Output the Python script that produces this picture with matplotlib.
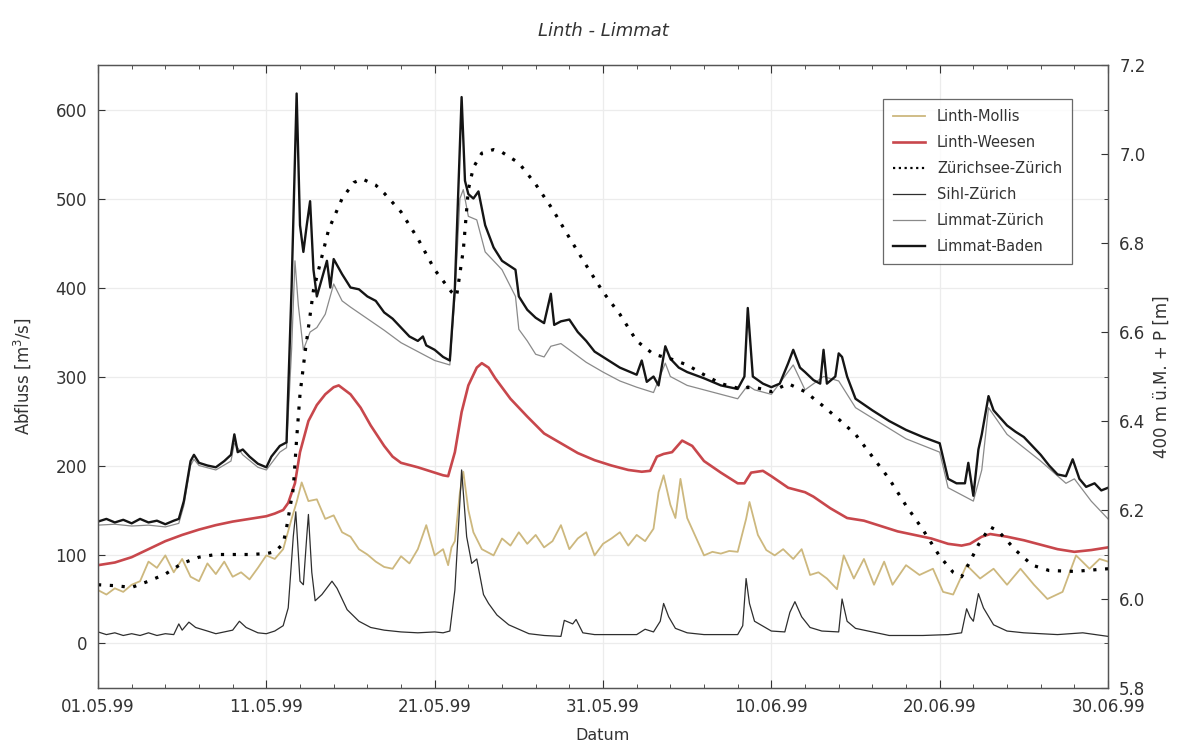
import matplotlib
matplotlib.use("Agg")
import matplotlib.pyplot as plt
import numpy as np
from matplotlib.ticker import MultipleLocator

# Abfluss-Ganglinien Mai/Juni 1999 (Tage ab 01.05.99)
tick_days = [0, 10, 20, 30, 40, 50, 60]
tick_labels = ["01.05.99", "11.05.99", "21.05.99", "31.05.99", "10.06.99", "20.06.99", "30.06.99"]

# Linth-Mollis [m3/s]
mollis_t = [0.0, 0.5, 1.0, 1.5, 2.0, 2.5, 3.0, 3.5, 4.0, 4.5, 5.0, 5.5, 6.0, 6.5, 7.0, 7.5, 8.0, 8.5,
            9.0, 9.5, 10.0, 10.5, 11.0, 11.5, 11.8, 12.1, 12.5, 13.0, 13.5, 14.0, 14.5, 15.0, 15.5,
            16.0, 16.5, 17.0, 17.5, 18.0, 18.5, 19.0, 19.5, 20.0, 20.5, 20.8, 21.0, 21.2, 21.5, 21.7,
            22.0, 22.3, 22.8, 23.5, 24.0, 24.5, 25.0, 25.5, 26.0, 26.5, 27.0, 27.5, 28.0, 28.5, 29.0,
            29.5, 30.0, 30.5, 31.0, 31.5, 32.0, 32.5, 33.0, 33.3, 33.6, 34.0, 34.3, 34.6, 35.0, 35.5,
            36.0, 36.5, 37.0, 37.5, 38.0, 38.5, 38.7, 39.2, 39.7, 40.2, 40.7, 41.3, 41.8, 42.3, 42.8,
            43.3, 43.9, 44.3, 44.9, 45.5, 46.1, 46.7, 47.2, 48.0, 48.8, 49.6, 50.2, 50.8, 51.6, 52.4,
            53.2, 54.0, 54.8, 55.6, 56.4, 57.3, 58.1, 58.9, 59.5, 60.0]
mollis_q = [60, 55, 62, 58, 66, 70, 92, 85, 99, 80, 95, 75, 70, 90, 78, 92, 75, 80,
            72, 85, 99, 95, 106, 140, 159, 181, 160, 162, 140, 144, 125, 120, 106,
            100, 92, 86, 84, 98, 90, 106, 133, 99, 106, 88, 108, 115, 170, 193,
            150, 125, 106, 99, 118, 110, 125, 112, 122, 108, 115, 133, 106, 118, 125,
            99, 112, 118, 125, 110, 122, 115, 129, 170, 189, 156, 141, 185, 141, 120,
            99, 103, 101, 104, 103, 140, 159, 122, 105, 99, 106, 95, 106, 77, 80,
            73, 61, 99, 73, 95, 66, 92, 66, 88, 77, 84, 58, 55, 88, 73,
            84, 66, 84, 66, 50, 58, 99, 84, 95, 92]

# Linth-Weesen [m3/s]
weesen_t = [0, 1, 2, 3, 4, 5, 6, 7, 8, 9, 10, 10.5, 11, 11.3, 11.7, 12.0, 12.5, 13.0, 13.5, 14.0,
            14.3, 15, 15.6, 16.2, 17.0, 17.5, 18.0, 19, 20, 20.5, 20.8, 21.2, 21.6, 22.0, 22.5, 22.8,
            23.2, 23.6, 24.5, 25.5, 26.5, 27.5, 28.5, 29.5, 30.5, 31.5, 32.3, 32.8, 33.2, 33.6, 34.1,
            34.7, 35.3, 36.0, 37.0, 38.0, 38.4, 38.8, 39.5, 40, 41, 42, 42.5, 43.5, 44.5, 45.5, 46.5,
            47.5, 48.5, 49.5, 50.5, 51.3, 51.8, 52.5, 53.0, 54, 55, 56, 57, 58, 59, 60]
weesen_q = [88, 91, 97, 106, 115, 122, 128, 133, 137, 140, 143, 146, 150, 158, 180, 215, 250, 268, 280, 288,
            290, 280, 265, 245, 222, 210, 203, 198, 192, 189, 188, 215, 260, 290, 310, 315,
            310, 298, 275, 255, 236, 225, 214, 206, 200, 195, 193, 194, 210, 213, 215,
            228, 222, 205, 192, 180, 180, 192, 194, 188, 175, 170, 165, 152, 141, 138, 132,
            126, 122, 118, 112, 110, 112, 120, 123, 120, 116, 111, 106, 103, 105, 108]

# Zürichsee-Zürich, Pegel [m über 400 m ü.M.]
see_t = [0, 1, 2, 3, 4, 5, 6, 7, 8, 9, 10, 10.5, 11, 11.2, 11.6, 11.8, 12.0, 12.3, 12.8, 13.7, 14.5,
         15.2, 15.7, 16.5, 17.0, 18.0, 19.0, 20.0, 21.0, 21.3, 21.7, 22.0, 22.3, 22.8, 23.5, 24.0,
         25.0, 26.0, 27.0, 28.0, 29.0, 30.0, 31.0, 32.0, 33.0, 34.0, 35.0, 36.0, 37.0, 38.0, 39.0,
         40.0, 41.0, 42.0, 43.0, 44.0, 45.0, 46.0, 47.0, 48.0, 49.0, 50.0, 50.8, 51.3, 51.8, 52.3,
         53.0, 53.5, 54.5, 55.5, 56.5, 58, 60]
see_h = [6.032, 6.030, 6.026, 6.040, 6.056, 6.080, 6.094, 6.100, 6.100, 6.100, 6.102, 6.106, 6.124,
         6.160, 6.248, 6.360, 6.460, 6.554, 6.694, 6.830, 6.900, 6.936, 6.944, 6.930, 6.912, 6.870,
         6.810, 6.740, 6.690, 6.680, 6.784, 6.920, 6.970, 7.002, 7.010, 7.004, 6.980, 6.932, 6.876,
         6.812, 6.750, 6.690, 6.640, 6.580, 6.550, 6.540, 6.526, 6.504, 6.484, 6.474, 6.476, 6.466,
         6.484, 6.466, 6.436, 6.404, 6.370, 6.320, 6.270, 6.210, 6.156, 6.096, 6.060, 6.050, 6.084,
         6.122, 6.162, 6.152, 6.110, 6.076, 6.064, 6.062, 6.068]

# Sihl-Zürich [m3/s]
sihl_t = [0, 0.5, 1, 1.5, 2, 2.5, 3, 3.5, 4, 4.5, 4.8, 5.0, 5.4, 5.8, 6.5, 7.0, 7.5, 8.0, 8.4, 8.8,
          9.5, 10.0, 10.5, 11.0, 11.3, 11.6, 11.75, 12.0, 12.2, 12.4, 12.5, 12.7, 12.9, 13.3, 13.9,
          14.2, 14.8, 15.5, 16.2, 17, 18, 19, 20, 20.5, 20.9, 21.2, 21.5, 21.6, 21.9, 22.2, 22.5,
          22.9, 23.2, 23.7, 24.4, 25.6, 26.5, 27.5, 27.7, 28.2, 28.4, 28.8, 29.5, 30, 32, 32.5, 33.0,
          33.4, 33.6, 33.9, 34.3, 35, 36, 38.0, 38.3, 38.5, 38.7, 39.0, 40, 40.8, 41.1, 41.4, 41.8,
          42.3, 43, 44.0, 44.2, 44.5, 45, 47, 49, 50.5, 51.3, 51.6, 51.8, 52.0, 52.3, 52.6, 53.2,
          54, 55, 57, 58.5, 60]
sihl_q = [13, 10, 12, 9, 11, 9, 12, 9, 11, 10, 22, 15, 24, 18, 14, 11, 13, 15, 25, 18,
          12, 11, 14, 20, 40, 120, 148, 70, 66, 120, 145, 80, 48, 55, 70,
          62, 38, 25, 18, 15, 13, 12, 13, 12, 14, 60, 160, 195, 120, 90, 95,
          55, 45, 32, 21, 11, 9, 8, 26, 22, 27, 12, 10, 10, 10, 16, 13,
          25, 45, 30, 17, 12, 10, 10, 20, 73, 45, 25, 14, 13, 35, 47, 30,
          18, 14, 13, 50, 25, 17, 9, 9, 10, 12, 39, 30, 25, 56, 40, 21,
          14, 12, 10, 12, 8]

# Limmat-Zürich [m3/s]
lzh_t = [0, 1, 2, 3, 4, 4.8, 5.1, 5.5, 5.7, 6.0, 7.0, 7.9, 8.1, 8.6, 9.5, 10.0, 10.8, 11.2, 11.5,
         11.7, 11.9, 12.2, 12.6, 13.0, 13.5, 14.0, 14.5, 15.0, 16.0, 17.0, 18.0, 19.0, 20.0, 20.9,
         21.2, 21.5, 21.7, 22.0, 22.5, 23.0, 24.0, 24.8, 25.0, 25.5, 26.0, 26.5, 26.9, 27.5, 28.0,
         29.0, 30.0, 31.0, 32.0, 33.0, 33.7, 34.0, 35.0, 37.0, 38.0, 38.6, 39.0, 40.0, 41.3, 42.0,
         43.1, 44.0, 45.0, 48.0, 50.0, 50.5, 51.0, 52.0, 52.5, 52.9, 54.0, 56.0, 57.5, 58.0, 59.0,
         60.0]
lzh_q = [133, 134, 132, 133, 131, 135, 155, 200, 207, 200, 195, 205, 225, 212, 198, 195, 215, 220, 330,
         430, 380, 330, 350, 355, 370, 404, 385, 378, 365, 352, 338, 328, 318, 313,
         390, 500, 510, 480, 476, 440, 420, 390, 353, 340, 325, 322, 334, 337, 330,
         316, 305, 295, 288, 282, 315, 300, 290, 280, 275, 290, 285, 280, 313, 285,
         300, 295, 265, 230, 215, 175, 170, 160, 195, 265, 235, 205, 180, 185, 160,
         140]

# Limmat-Baden [m3/s]
baden_t = [0.0, 0.5, 1.0, 1.5, 2.0, 2.5, 3.0, 3.5, 4.0, 4.5, 4.8, 5.1, 5.5, 5.7, 6.0, 6.5, 7.0, 7.5,
           7.9, 8.1, 8.3, 8.6, 9.0, 9.5, 10.0, 10.3, 10.8, 11.2, 11.5, 11.8, 12.0, 12.2, 12.4, 12.6,
           12.8, 13.0, 13.3, 13.6, 13.8, 14.0, 14.5, 15.0, 15.5, 16.0, 16.5, 17.0, 17.5, 18.0, 18.5,
           19.0, 19.3, 19.5, 20.0, 20.5, 20.9, 21.2, 21.5, 21.6, 21.8, 22.0, 22.3, 22.6, 23.0, 23.5,
           24.0, 24.8, 25.0, 25.5, 26.0, 26.5, 26.9, 27.1, 27.5, 28.0, 28.5, 29.0, 29.5, 30.0, 31.0,
           32.0, 32.3, 32.6, 33.0, 33.3, 33.7, 34.0, 34.5, 35.0, 36.0, 37.0, 37.5, 38.0, 38.4, 38.6,
           38.9, 39.5, 40.0, 40.5, 41.0, 41.3, 41.7, 42.0, 42.5, 42.9, 43.1, 43.3, 43.8, 44.0, 44.2,
           44.5, 45.0, 46.0, 47.0, 48.0, 49.0, 50.0, 50.5, 51.0, 51.5, 51.7, 52.0, 52.3, 52.5, 52.9,
           53.2, 54.0, 54.5, 55.0, 56.0, 56.5, 57.0, 57.5, 57.9, 58.3, 58.7, 59.2, 59.6, 60.0]
baden_q = [137, 140, 136, 139, 135, 140, 136, 138, 134, 138, 140, 160, 205, 212, 203, 200, 198, 205,
           212, 235, 215, 218, 210, 202, 198, 210, 222, 226, 400, 618, 470, 440, 470, 497,
           420, 390, 410, 430, 400, 432, 415, 400, 398, 390, 385, 372, 365, 355, 345,
           340, 345, 335, 330, 322, 318, 400, 560, 614, 520, 505, 500, 508, 470, 445,
           430, 420, 390, 375, 366, 360, 393, 358, 362, 364, 350, 340, 328, 322, 310,
           302, 318, 294, 300, 290, 334, 320, 310, 305, 298, 290, 288, 286, 300, 377,
           300, 292, 288, 292, 315, 330, 310, 305, 296, 292, 330, 292, 300, 326, 322,
           300, 275, 262, 250, 240, 232, 225, 185, 180, 180, 203, 166, 218, 235, 278,
           262, 245, 238, 232, 212, 200, 190, 188, 207, 185, 176, 180, 172, 175]

plt.rcParams["font.family"] = ["DejaVu Sans"]

fig = plt.figure(figsize=(11.98, 7.51), dpi=100)
ax = fig.add_axes([0.0818, 0.0839, 0.8431, 0.8295])
ax2 = ax.twinx()

ax.plot(mollis_t, mollis_q, color="#cdb87e", lw=1.3, label="Linth-Mollis")
ax.plot(weesen_t, weesen_q, color="#c8474c", lw=1.9, label="Linth-Weesen")
# lake level goes on the right axis, proxy line only for the legend
ax2.plot(see_t, see_h, color="black", lw=2.3, linestyle=(0, (1, 2.7)))
ax.plot([], [], color="black", lw=1.6, linestyle=(0, (1, 1.6)), label="Zürichsee-Zürich")
ax.plot(sihl_t, sihl_q, color="#2e2e2e", lw=0.9, label="Sihl-Zürich")
ax.plot(lzh_t, lzh_q, color="#8a8a8a", lw=0.9, label="Limmat-Zürich")
ax.plot(baden_t, baden_q, color="#151515", lw=1.7, label="Limmat-Baden")

ax.set_xlim(0, 60)
ax.set_ylim(-50, 650)
ax2.set_ylim(5.8, 7.2)

ax.set_xticks(tick_days)
ax.set_xticklabels(tick_labels)
ax.xaxis.set_minor_locator(MultipleLocator(2))
ax.yaxis.set_major_locator(MultipleLocator(100))
ax2.yaxis.set_major_locator(MultipleLocator(0.2))
ax2.yaxis.set_minor_locator(MultipleLocator(0.1))
ax2.yaxis.set_major_formatter(matplotlib.ticker.FormatStrFormatter("%.1f"))

ax.tick_params(axis="both", which="both", direction="in", top=True, labelsize=12, colors="#333333",
               labelcolor="#333333")
ax.tick_params(axis="x", which="major", length=6, pad=7)
ax.tick_params(axis="x", which="minor", length=3)
ax.tick_params(axis="y", which="major", length=5, pad=8)
ax2.tick_params(axis="y", which="both", direction="in", labelsize=12, colors="#333333", labelcolor="#333333")
ax2.tick_params(axis="y", which="major", length=5, pad=8)
ax2.tick_params(axis="y", which="minor", length=3)

ax.grid(True, which="major", color="#ececec", lw=0.9)
ax.set_axisbelow(True)
for a in (ax, ax2):
    for s in a.spines.values():
        s.set_color("#555555")
        s.set_linewidth(0.9)

ax.set_xlabel("Datum", fontsize=11.5, color="#333333", labelpad=9)
ax.set_ylabel("Abfluss [m$^3$/s]", fontsize=12, color="#333333", labelpad=16)
ax2.set_ylabel("400 m ü.M. + P [m]", fontsize=12, color="#333333", labelpad=5)
ax.set_title("Linth - Limmat", fontsize=13, style="italic", color="#333333", pad=21)

leg = ax.legend(loc="upper right", bbox_to_anchor=(0.972, 0.957), fontsize=10.5, frameon=True,
                fancybox=False, edgecolor="#444444", handlelength=2.2, labelspacing=0.75,
                borderpad=0.7, handletextpad=0.8)
leg.get_frame().set_linewidth(0.9)
for txt in leg.get_texts():
    txt.set_color("#333333")

fig.savefig("out.png", dpi=100)
